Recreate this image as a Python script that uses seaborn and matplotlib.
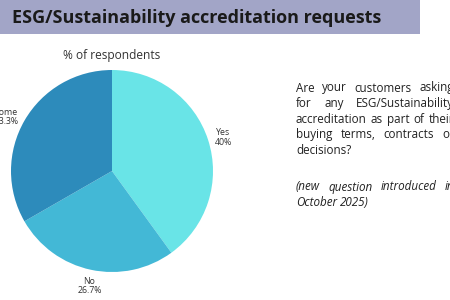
import matplotlib
matplotlib.use("Agg")
import matplotlib.pyplot as plt
import seaborn as sns

categories = ["Yes", "No", "Some"]
shares = [40, 26.7, 33.3]
share_labels = ["40%", "26.7%", "33.3%"]
colors = ["#69e4e7", "#43b8d6", "#2d8bbb"]

title = "ESG/Sustainability accreditation requests"
subtitle = "% of respondents"
question_lines = [
    "Are your customers asking",
    "for any ESG/Sustainability",
    "accreditation as part of their",
    "buying terms, contracts or",
    "decisions?",
]
note_lines = ["(new question introduced in", "October 2025)"]

sns.set_theme(style="white")
plt.rcParams["font.family"] = ["Open Sans", "DejaVu Sans"]

W, H = 450, 300
fig = plt.figure(figsize=(4.5, 3), dpi=100)
fig.patch.set_facecolor("white")

# header band
fig.patches.append(plt.Rectangle((0, 1 - 34 / H), 420 / W, 34 / H,
                                 transform=fig.transFigure,
                                 facecolor="#a2a5c7", edgecolor="none"))
fig.text(12 / W, 1 - 18 / H, title, fontsize=13, fontweight="bold",
         color="#1a1a1a", va="center", ha="left")

# pie
cx, cy, r = 112, 171, 101
ax = fig.add_axes([(cx - r) / W, (H - cy - r) / H, 2 * r / W, 2 * r / H])
labels = [f"{c}\n{p}" for c, p in zip(categories, share_labels)]
wedges, texts = ax.pie(shares, labels=labels, colors=colors, startangle=90,
                       counterclock=False, labeldistance=1.07,
                       wedgeprops=dict(linewidth=0),
                       textprops=dict(fontsize=6.3, color="#333333",
                                      multialignment="center", linespacing=1.1))
texts[1].set_ha("center")
texts[1].set_va("top")
ax.set_aspect("equal")
ax.set_xlim(-1, 1)
ax.set_ylim(-1, 1)
ax.axis("off")
for t in texts:
    t.set_clip_on(False)

fig.text(cx / W, 1 - 56 / H, subtitle, fontsize=8.6, color="#333333",
         ha="center", va="center")

# justified question text (runs past the right edge like the original slide)
fig.canvas.draw()
renderer = fig.canvas.get_renderer()
left, right = 296, 454
body_size = 8.4


def text_width(s, style):
    t = fig.text(0, 0, s, fontstyle=style, fontsize=body_size)
    w = t.get_window_extent(renderer).width
    t.remove()
    return w


def put_line(words, y, justify, style="normal"):
    widths = [text_width(w, style) for w in words]
    sp = text_width("a a", style) - text_width("aa", style)
    if justify and len(words) > 1:
        gap = max(sp, (right - left - sum(widths)) / (len(words) - 1))
    else:
        gap = sp
    x = left
    for w, wd in zip(words, widths):
        fig.text(x / W, 1 - y / H, w, fontstyle=style, fontsize=body_size,
                 color="#222222", va="center")
        x += wd + gap


for i, line in enumerate(question_lines):
    put_line(line.split(), 88 + i * 15.5, i < len(question_lines) - 1)
for i, line in enumerate(note_lines):
    put_line(line.split(), 187 + i * 15.5, i < len(note_lines) - 1, style="italic")

fig.savefig("out.png", dpi=100, facecolor="white")
